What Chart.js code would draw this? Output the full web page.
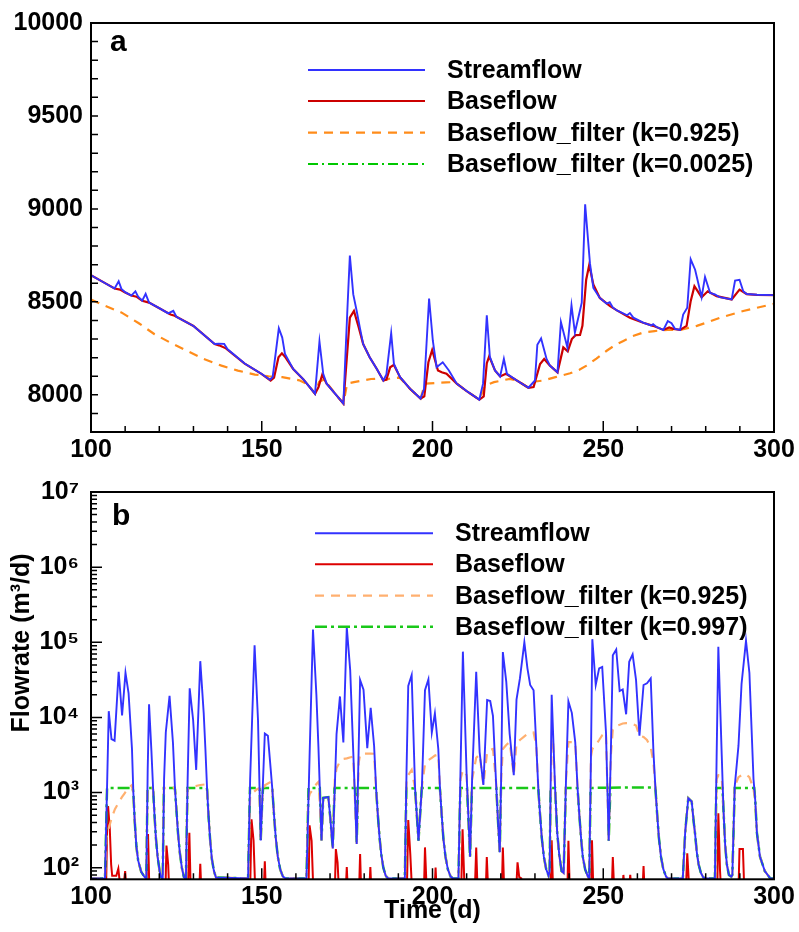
<!DOCTYPE html>
<html><head><meta charset="utf-8">
<script src="https://cdn.jsdelivr.net/npm/chart.js@4/dist/chart.umd.min.js"></script>
<style>
html,body{margin:0;padding:0;background:#fff;}
#wrap{position:relative;width:799px;height:932px;background:#fff;}
.box{position:absolute;left:0;width:799px;}
</style></head><body>
<div id="wrap">
<div class="box" style="top:0;height:465px"><canvas id="ca" width="799" height="465"></canvas></div>
<div class="box" style="top:465px;height:467px"><canvas id="cb" width="799" height="467"></canvas></div>
</div>
<script>
// ---------------- DATA ----------------
const X_TICKS = [100, 150, 200, 250, 300];
const A_Y_TICKS = [8000, 8500, 9000, 9500, 10000];
const B_Y_TICKS = [1e2, 1e3, 1e4, 1e5, 1e6, 1e7];
const LABELS_A = ['Streamflow', 'Baseflow', 'Baseflow_filter (k=0.925)', 'Baseflow_filter (k=0.0025)'];
const LABELS_B = ['Streamflow', 'Baseflow', 'Baseflow_filter (k=0.925)', 'Baseflow_filter (k=0.997)'];

// panel a  [day, flow]
const a_streamflow = [[100,8643],[106.9,8572],[108.1,8611],[108.9,8570],[110,8552],[111.8,8534],[113,8557],[113.8,8528],[115,8506],[116,8543],[117,8496],[120,8466],[122.6,8438],[124.1,8452],[125,8420],[130,8370],[136.2,8273],[137.4,8275],[139,8274],[140,8245],[145,8168],[149.9,8113],[152.4,8081],[153.2,8096],[155,8358],[156,8308],[156.8,8220],[159.2,8139],[162.2,8083],[165.6,8006],[166.9,8287],[168,8113],[169,8060],[171.9,7997],[173.9,7953],[175.1,8468],[175.8,8749],[176.8,8540],[177.8,8451],[178.8,8355],[179.7,8273],[181.6,8202],[183.7,8139],[185.6,8077],[186.5,8110],[187.9,8332],[188.7,8166],[190.5,8095],[193.4,8033],[196.5,7980],[197.5,8030],[199,8518],[200.1,8291],[201.2,8148],[203,8175],[204.8,8131],[207.1,8060],[210,8020],[213.7,7974],[214.8,8060],[215.9,8428],[216.8,8205],[218.3,8131],[219.8,8099],[220.9,8193],[221.8,8113],[224.7,8077],[228.1,8038],[230,8077],[230.7,8269],[231.8,8303],[233.4,8193],[234.4,8157],[236.6,8121],[237.6,8392],[239.5,8255],[240.7,8481],[241.7,8335],[243.7,8495],[244.7,9025],[246.1,8708],[247.1,8575],[249,8521],[251,8490],[251.9,8498],[252.8,8470],[254,8454],[257,8428],[257.8,8440],[258.8,8415],[261.7,8388],[264,8373],[264.6,8380],[265.5,8366],[267.6,8349],[268.9,8397],[270,8385],[271,8355],[272.5,8349],[273.4,8432],[274.6,8468],[275.6,8729],[276.9,8673],[278.8,8525],[279.8,8634],[281.3,8548],[282.7,8540],[284.1,8525],[287.6,8513],[288.6,8614],[289.9,8619],[291,8557],[292,8542],[295,8538],[300,8536]];
const a_baseflow = [[100,8643],[104,8602],[106.9,8572],[108.5,8566],[110,8550],[111.8,8534],[113.3,8528],[115,8506],[117,8496],[120,8466],[123.3,8432],[124.5,8425],[130,8370],[136.2,8273],[137.5,8266],[139.5,8250],[145,8168],[149.9,8113],[152.6,8077],[153.6,8092],[154.9,8202],[155.9,8223],[156.8,8205],[159.2,8139],[162.2,8083],[165.6,8006],[166.6,8040],[167.7,8107],[169,8060],[171.9,7997],[173.9,7953],[175.8,8415],[177,8451],[178.4,8362],[179.7,8273],[181.6,8202],[183.7,8139],[185.6,8077],[186.5,8082],[187.6,8148],[188.7,8161],[190.5,8095],[193.4,8033],[196.5,7980],[197.6,7992],[198.8,8175],[199.9,8241],[201.6,8131],[202.7,8121],[204.1,8113],[207.1,8060],[210,8020],[213.7,7974],[215,7992],[215.9,8170],[216.6,8207],[218.3,8131],[219.8,8099],[221.5,8113],[224.7,8077],[228.1,8038],[229.6,8042],[231.5,8166],[232.7,8193],[234.4,8157],[236.6,8121],[238.3,8255],[239.6,8234],[240.8,8300],[241.9,8321],[243.2,8322],[243.9,8371],[245,8619],[245.9,8699],[247.1,8593],[249,8521],[252,8477],[254,8454],[257.8,8415],[261.7,8388],[264.6,8371],[267.6,8349],[269.3,8362],[270.5,8355],[272.5,8349],[274.4,8371],[275.6,8504],[276.7,8584],[278.8,8525],[280.6,8557],[283.2,8531],[287.6,8513],[289.9,8566],[292,8542],[295,8538],[300,8536]];
const a_filter925 = [[100,8513],[104,8480],[109,8442],[114,8385],[118.6,8326],[123.5,8278],[128.4,8234],[133,8193],[138.2,8157],[143,8130],[148,8109],[152,8100],[156,8095],[159,8085],[161,8078],[163.5,8056],[165.6,8006],[166.8,8070],[168.3,8082],[168.8,8070],[171.9,7997],[173.9,7953],[175,8060],[177,8068],[179,8075],[182,8085],[185,8088],[185.6,8077],[186.5,8082],[188,8090],[190,8092],[190.5,8090],[193.4,8033],[196.5,7980],[197.8,8060],[201,8064],[204,8067],[206.5,8068],[207.1,8060],[210,8020],[213.7,7974],[215.4,8051],[218,8068],[221,8080],[222.7,8086],[224.7,8077],[228.1,8038],[230.2,8072],[232.5,8077],[236,8095],[240.3,8116],[243,8135],[245.1,8157],[248,8195],[251,8237],[253.5,8268],[255.9,8290],[258.5,8315],[261.7,8335],[265,8343],[267.6,8348],[270,8350],[272.5,8349],[275,8360],[277.4,8371],[281,8393],[284.2,8415],[288,8435],[291,8451],[295,8468],[300,8490]];
const a_filter0025 = [];

// panel b  [day, flowrate]
const b_streamflow = [[100,72],[104.1,72],[105.2,12100],[106,5150],[106.9,4900],[108.1,40500],[109.1,10600],[110.1,39300],[111,21100],[112,3810],[112.4,1000],[112.8,420],[113.3,190],[113.8,125],[114.7,88],[115.7,75],[116.2,72],[116.6,2000],[117,14900],[117.7,3500],[118.2,1100],[118.6,500],[119,250],[119.5,140],[120.1,90],[120.5,75],[121,72],[121.4,1500],[121.9,6300],[123,19300],[124,4600],[124.6,1100],[125,600],[125.5,280],[126,160],[126.6,100],[127.2,75],[127.8,72],[128.3,1500],[128.9,24400],[129.9,9300],[130.8,2000],[132,56000],[133,11500],[133.5,3800],[134,1100],[134.4,500],[134.9,230],[135.4,130],[136,90],[136.6,74],[146,72],[146.6,1500],[147.9,91000],[148.9,9300],[149.7,230],[150.2,900],[150.9,6100],[151.8,5700],[152.6,2100],[153.1,1100],[153.6,500],[154.1,250],[154.7,140],[155.4,95],[156.2,76],[157,72],[163.1,72],[164,3000],[165,148000],[166,20000],[166.6,4000],[167.5,230],[168,850],[169.5,870],[170,500],[170.8,180],[171.9,6000],[172.9,19000],[173.9,4650],[174.9,158000],[175.9,42600],[176.8,3450],[177.8,206],[178.8,31500],[179.8,23400],[180.9,3900],[181.9,13400],[182.9,4200],[183.5,1100],[184,500],[184.5,250],[185,150],[185.6,100],[186.3,78],[187,72],[191.9,72],[192.4,2000],[192.9,26300],[193.9,36600],[194.9,1130],[195.9,228],[196.9,1200],[197.8,23000],[198.8,32000],[199.8,6300],[200.7,11300],[201.7,3800],[202.2,1100],[202.7,500],[203.2,240],[203.8,140],[204.5,95],[205.3,76],[206,72],[207.6,72],[208.2,2000],[208.9,75000],[210,1700],[211,140],[211.6,1500],[212.8,40600],[213.8,3450],[214.9,1260],[216,17000],[216.9,16500],[217.7,10500],[218.6,1400],[219.2,400],[219.7,160],[220.1,1500],[220.6,74000],[221.6,30000],[222.6,6000],[223.8,1700],[224.6,17200],[225.6,33000],[226.9,100000],[227.8,45000],[228.6,27000],[229.6,23000],[230.4,4200],[231,1100],[231.5,500],[232,250],[232.6,140],[233.3,95],[234,78],[234.3,90],[234.9,20000],[235.9,1150],[236.5,300],[237.1,150],[237.8,90],[238.4,85],[239.1,1500],[239.8,16300],[240.8,11500],[241.8,4650],[242.5,1100],[243,500],[243.5,250],[244,140],[244.7,95],[245.5,76],[245.9,72],[246.4,3000],[246.8,110000],[247.8,27000],[248.8,45000],[249.7,47000],[250.8,6300],[251.6,228],[252.2,3000],[252.8,67000],[253.8,80000],[254.8,22400],[255.7,23500],[256.7,11000],[257.6,55000],[258.6,69000],[259.6,31600],[260.6,5700],[261.8,27000],[262.8,28500],[263.9,33000],[264.7,3450],[265.3,1100],[265.8,500],[266.3,250],[266.9,140],[267.6,95],[268.4,76],[269,72],[273.3,72],[274,300],[274.9,840],[275.9,760],[276.5,400],[276.9,280],[277.4,160],[277.9,112],[278.6,85],[279.3,74],[280,72],[282.7,72],[283.2,3000],[283.7,87000],[284.7,3100],[285.2,600],[285.7,200],[286.2,110],[286.8,80],[287.5,76],[287.8,80],[288.5,1200],[289.6,4200],[290.5,28000],[291.8,105000],[292.8,39000],[294,1500],[294.5,800],[295,290],[295.9,140],[297.3,90],[298.9,72],[300,72]];
const b_baseflow = [[100,50],[104.4,50],[104.7,300],[105,660],[105.5,330],[105.9,110],[106.2,78],[107.4,78],[108,97],[108.5,60],[109.6,60],[110,90],[110.4,50],[116.3,50],[116.7,280],[117.1,50],[121.8,50],[122.1,197],[122.6,110],[122.9,50],[128.4,50],[128.8,292],[129.2,50],[131.7,50],[132,113],[132.3,50],[146.6,50],[147,440],[147.6,230],[148.1,50],[150.6,50],[150.9,122],[151.2,50],[163.7,50],[164,366],[164.6,228],[165.1,50],[171.4,50],[171.7,177],[172.2,118],[172.6,50],[174.6,50],[174.9,102],[175.2,50],[178.5,50],[178.8,152],[179.1,50],[181.5,50],[181.8,102],[182.1,50],[192.5,50],[192.9,430],[193.5,150],[194,50],[197.5,50],[197.8,186],[198.3,50],[200.6,50],[200.9,100],[201.2,50],[208.4,50],[208.8,325],[209.4,50],[212.4,50],[212.8,186],[213.2,50],[215.6,50],[215.9,138],[216.3,50],[220.3,50],[220.6,186],[221,50],[224.5,50],[224.9,118],[225.4,75],[226,72],[226.5,50],[234.6,50],[234.9,232],[235.3,50],[239.5,50],[239.8,228],[240.2,50],[246.4,50],[246.7,232],[247.1,50],[252.5,50],[252.8,138],[253.2,50],[255.6,50],[255.9,80],[256.3,50],[257.5,50],[257.9,80],[258.3,50],[261.5,50],[261.8,105],[262.1,50],[274.2,50],[274.6,155],[275.1,60],[275.6,50],[283.4,50],[283.7,530],[284.2,90],[284.5,50],[289.6,50],[289.9,177],[290.9,177],[291.3,50],[300,50]];
const b_filter925 = [[100,72],[104.1,72],[104.5,250],[105,310],[106,450],[107,600],[108,720],[109,860],[110,1000],[111,1150],[111.9,1250],[112.4,1000],[112.8,420],[113.3,190],[113.8,125],[114.7,88],[115.7,75],[116.2,72],[116.55,1150],[118,1150],[118.2,1100],[118.6,500],[119,250],[119.5,140],[120.1,90],[120.5,75],[121,72],[121.35,1150],[124.4,1160],[124.6,1100],[125,600],[125.5,280],[126,160],[126.6,100],[127.2,75],[127.8,72],[128.25,1100],[129,1150],[130,1200],[131,1230],[132,1260],[133.3,1280],[133.6,1200],[134,1100],[134.4,500],[134.9,230],[135.4,130],[136,90],[136.6,74],[146,72],[146.6,900],[147.5,1000],[148.5,1100],[149.3,1150],[149.7,230],[150.2,900],[150.9,1250],[151.8,1320],[152.6,1380],[153.1,1100],[153.6,500],[154.1,250],[154.7,140],[155.4,95],[156.2,76],[157,72],[163.1,72],[163.6,800],[164.1,970],[165,1100],[166,1300],[166.7,1400],[167.5,230],[168,850],[169.5,870],[170,500],[170.8,180],[171.4,1500],[171.9,2100],[172.9,2600],[173.9,2800],[174.9,2850],[176,2950],[176.8,3000],[177.8,206],[178.4,2500],[178.8,3200],[179.8,3300],[180.9,3300],[181.9,3300],[182.9,3280],[183.5,1100],[184,500],[184.5,250],[185,150],[185.6,100],[186.3,78],[187,72],[191.9,72],[192.4,1500],[192.9,1700],[193.9,2000],[194.9,1130],[195.9,228],[196.9,1200],[197.8,2400],[198.8,2700],[199.8,2900],[200.7,3100],[201.7,3200],[202.2,1100],[202.7,500],[203.2,240],[203.8,140],[204.5,95],[205.3,76],[206,72],[207.6,72],[208.2,1500],[208.9,2000],[210,1700],[211,140],[211.6,1500],[212.8,2900],[213.8,3200],[214.9,1260],[216,3500],[216.9,3700],[217.7,3800],[218.6,1400],[219.2,400],[219.7,160],[220.1,1500],[220.6,3800],[221.6,4300],[222.6,4700],[223.8,1700],[224.6,4500],[225.6,5000],[226.9,5600],[227.8,6000],[228.6,6200],[229.6,6300],[230.4,4200],[231,1100],[231.5,500],[232,250],[232.6,140],[233.3,95],[234,78],[234.3,90],[234.9,5200],[235.3,5000],[235.9,1150],[236.5,300],[237.1,150],[237.8,90],[238.4,85],[239.1,1500],[239.8,4700],[240.8,4700],[241.8,4650],[242.5,1100],[243,500],[243.5,250],[244,140],[244.7,95],[245.5,76],[245.9,72],[246.4,3000],[246.8,3800],[247.8,4300],[248.8,5000],[249.7,5800],[250.8,6300],[251.6,228],[252.2,3000],[252.8,6900],[253.8,7700],[254.8,8000],[255.7,8300],[256.7,8400],[257.6,8400],[258.6,8200],[259.6,7800],[260.6,5700],[261.8,5500],[262.8,5000],[263.9,4000],[264.7,2500],[265.3,1100],[265.8,500],[266.3,250],[266.9,140],[267.6,95],[268.4,76],[269,72],[273.3,72],[274,300],[274.9,840],[275.9,760],[276.5,400],[276.9,280],[277.4,160],[277.9,112],[278.6,85],[279.3,74],[280,72],[282.7,72],[283.2,1500],[283.7,1700],[284.2,1700],[284.7,1600],[285.2,600],[285.7,200],[286.2,110],[286.8,80],[287.5,76],[287.8,80],[288.5,1200],[289.6,1600],[290.5,1700],[291.8,1750],[292.8,1600],[293.5,1300],[294,1100],[294.5,800],[295,290],[295.9,140],[297.3,90],[298.9,72],[300,72]];
const b_filter997 = [[100,72],[104.1,72],[104.7,1150],[112.2,1150],[112.4,1000],[112.8,420],[113.3,190],[113.8,125],[114.7,88],[115.7,75],[116.2,72],[116.55,1150],[118.1,1150],[118.2,1100],[118.6,500],[119,250],[119.5,140],[120.1,90],[120.5,75],[121,72],[121.35,1150],[124.5,1150],[124.6,1100],[125,600],[125.5,280],[126,160],[126.6,100],[127.2,75],[127.8,72],[128.25,1150],[133.9,1150],[134,1100],[134.4,500],[134.9,230],[135.4,130],[136,90],[136.6,74],[146,72],[146.55,1150],[149.4,1150],[149.7,230],[150.2,900],[150.4,1150],[153,1150],[153.1,1100],[153.6,500],[154.1,250],[154.7,140],[155.4,95],[156.2,76],[157,72],[163.1,72],[163.7,1150],[167,1150],[167.5,230],[168,850],[169.5,870],[170,500],[170.8,180],[171.3,1150],[177.4,1150],[177.8,206],[178.2,1150],[183.4,1150],[183.5,1100],[184,500],[184.5,250],[185,150],[185.6,100],[186.3,78],[187,72],[191.9,72],[192.35,1150],[194.9,1130],[195.9,228],[196.85,1150],[202.1,1150],[202.2,1100],[202.7,500],[203.2,240],[203.8,140],[204.5,95],[205.3,76],[206,72],[207.6,72],[208.15,1150],[210.1,1150],[211,140],[211.55,1150],[218.7,1150],[219.2,400],[219.7,160],[220.05,1150],[230.9,1150],[231,1100],[231.5,500],[232,250],[232.6,140],[233.3,95],[234,78],[234.3,90],[234.58,1150],[235.9,1150],[236.5,300],[237.1,150],[237.8,90],[238.4,85],[239.05,1150],[242.4,1150],[242.5,1100],[243,500],[243.5,250],[244,140],[244.7,95],[245.5,76],[245.9,72],[246.3,1150],[251.4,1160],[251.6,228],[252.1,1160],[265.2,1170],[265.3,1100],[265.8,500],[266.3,250],[266.9,140],[267.6,95],[268.4,76],[269,72],[273.3,72],[274,300],[274.9,840],[275.9,760],[276.5,400],[276.9,280],[277.4,160],[277.9,112],[278.6,85],[279.3,74],[280,72],[282.7,72],[283.1,1150],[284.9,1150],[285.2,600],[285.7,200],[286.2,110],[286.8,80],[287.5,76],[287.8,80],[288.5,1150],[294.2,1150],[294.5,800],[295,290],[295.9,140],[297.3,90],[298.9,72],[300,72]];

// ---------------- RENDERING ----------------
const FONT = '"Liberation Sans", Arial, Helvetica, sans-serif';
const pts = arr => arr.map(p => ({x: p[0], y: p[1]}));
const SUP = {'0':'\u2070','1':'\u00B9','2':'\u00B2','3':'\u00B3','4':'\u2074','5':'\u2075','6':'\u2076','7':'\u2077','8':'\u2078','9':'\u2079'};
const pow10Label = v => '10' + String(Math.round(Math.log10(v))).split('').map(c => SUP[c]).join('');

const deco = {
  id: 'deco',
  afterDraw(chart, args, o) {
    const ctx = chart.ctx, ca = chart.chartArea, xs = chart.scales.x, ys = chart.scales.y;
    ctx.save();
    ctx.setLineDash([]);
    ctx.strokeStyle = '#000';
    ctx.lineWidth = 1.5;
    ctx.beginPath();
    for (let v = xs.min; v <= xs.max + 1e-9; v += o.xMinorStep) {
      const p = xs.getPixelForValue(v);
      const len = X_TICKS.includes(v) ? o.xMajorLen : o.xMinorLen;
      ctx.moveTo(p, ca.bottom); ctx.lineTo(p, ca.bottom - len);
    }
    o.yTickVals.forEach(t => {
      if (t.v < ys.min - 1e-9 || t.v > ys.max + 1e-9) return;
      const p = ys.getPixelForValue(t.v);
      const len = t.major ? o.yMajorLen : o.yMinorLen;
      ctx.moveTo(ca.left, p); ctx.lineTo(ca.left + len, p);
    });
    ctx.stroke();
    ctx.lineWidth = 2;
    ctx.strokeRect(ca.left, ca.top, ca.right - ca.left, ca.bottom - ca.top);
    // panel letter
    ctx.fillStyle = '#000';
    ctx.textAlign = 'left';
    ctx.textBaseline = 'alphabetic';
    ctx.font = 'bold 30px ' + FONT;
    ctx.fillText(o.letter, o.letterX, o.letterY);
    // legend
    ctx.font = 'bold 25px ' + FONT;
    ctx.textBaseline = 'middle';
    o.legendOrder.forEach((di, i) => {
      const ds = chart.data.datasets[di];
      const y = o.legY[i];
      ctx.save();
      ctx.strokeStyle = ds.borderColor;
      ctx.lineWidth = ds.borderWidth;
      ctx.setLineDash(ds.borderDash || []);
      ctx.beginPath(); ctx.moveTo(o.legX1, y); ctx.lineTo(o.legX2, y); ctx.stroke();
      ctx.restore();
      ctx.fillStyle = '#000';
      ctx.fillText(ds.label, o.legTX, y + 1);
    });
    if (o.yTitle) {
      ctx.save();
      ctx.translate(o.yTitleX, o.yTitleY);
      ctx.rotate(-Math.PI / 2);
      ctx.textAlign = 'center';
      ctx.textBaseline = 'middle';
      ctx.font = 'bold 25px ' + FONT;
      ctx.fillText(o.yTitle, 0, 0);
      ctx.restore();
    }
    ctx.restore();
  }
};

function ds(label, data, color, width, dash) {
  return {label, data: pts(data), borderColor: color, backgroundColor: color, borderWidth: width,
          borderDash: dash || [], pointRadius: 0, tension: 0, fill: false, spanGaps: true};
}

const tickFont = {family: FONT, size: 25, weight: 'bold'};

// minor tick lists for y axes
const aYTicks = [];
for (let v = 7800; v <= 10000; v += 100) aYTicks.push({v, major: A_Y_TICKS.includes(v)});
const bYTicks = [];
for (let e = 1; e <= 7; e++) for (let k = 1; k <= 9; k++) {
  const v = k * Math.pow(10, e);
  if (v <= 1e7) bYTicks.push({v, major: k === 1});
}

new Chart(document.getElementById('ca'), {
  type: 'line',
  data: {datasets: [
    ds(LABELS_A[0], a_streamflow, '#3232ff', 1.9),
    ds(LABELS_A[1], a_baseflow, '#cc0000', 2.2),
    ds(LABELS_A[2], a_filter925, '#ff8c1a', 2.2, [9, 7]),
    ds(LABELS_A[3], a_filter0025, '#00c800', 1.8, [10, 4, 2, 4])
  ]},
  options: {
    responsive: false, animation: false, devicePixelRatio: 1,
    layout: {padding: {top: 19, right: 25, bottom: 0, left: 0}},
    plugins: {legend: {display: false}, tooltip: {enabled: false},
      deco: {xMinorStep: 10, xMajorLen: 11, xMinorLen: 6, yMajorLen: 7, yMinorLen: 7, yTickVals: aYTicks,
             letter: 'a', letterX: 110, letterY: 51,
             legendOrder: [0, 1, 2, 3], legY: [70, 101, 132.7, 164], legX1: 308, legX2: 425, legTX: 447}},
    scales: {
      x: {type: 'linear', min: 100, max: 300,
          afterBuildTicks: s => { s.ticks = X_TICKS.map(v => ({value: v})); },
          afterFit: s => { s.height = 33; },
          grid: {display: false, drawTicks: false}, border: {display: false},
          ticks: {font: tickFont, color: '#000', padding: 3, maxRotation: 0, autoSkip: false, callback: v => String(v)}},
      y: {type: 'linear', min: 7800, max: 10000,
          afterBuildTicks: s => { s.ticks = A_Y_TICKS.map(v => ({value: v})); },
          afterFit: s => { s.width = 91; },
          grid: {display: false, drawTicks: false}, border: {display: false},
          ticks: {font: tickFont, color: '#000', padding: 8, callback: v => String(v)}}
    }
  },
  plugins: [deco]
});

new Chart(document.getElementById('cb'), {
  type: 'line',
  data: {datasets: [
    ds(LABELS_B[0], b_streamflow, '#3232ff', 1.9),
    ds(LABELS_B[2], b_filter925, '#ffb070', 2.2, [9, 7]),
    ds(LABELS_B[3], b_filter997, '#19c819', 2.5, [12, 4, 3, 4]),
    ds(LABELS_B[1], b_baseflow, '#dd0000', 2)
  ]},
  options: {
    responsive: false, animation: false, devicePixelRatio: 1,
    layout: {padding: {top: 20.7, right: 25, bottom: 0, left: 0}},
    plugins: {legend: {display: false}, tooltip: {enabled: false},
      deco: {xMinorStep: 10, xMajorLen: 11, xMinorLen: 6, yMajorLen: 11, yMinorLen: 6, yTickVals: bYTicks,
             letter: 'b', letterX: 112, letterY: 60,
             legendOrder: [0, 3, 1, 2], legY: [68.3, 99.3, 130.7, 161.7], legX1: 315, legX2: 433, legTX: 455,
             yTitle: 'Flowrate (m\u00B3/d)', yTitleX: 22, yTitleY: 178}},
    scales: {
      x: {type: 'linear', min: 100, max: 300,
          afterBuildTicks: s => { s.ticks = X_TICKS.map(v => ({value: v})); },
          afterFit: s => { s.height = 52.7; },
          grid: {display: false, drawTicks: false}, border: {display: false},
          title: {display: true, text: 'Time (d)', color: '#000', font: {family: FONT, size: 25, weight: 'bold'}, padding: {top: 0, bottom: 6}},
          ticks: {font: tickFont, color: '#000', padding: 3, maxRotation: 0, autoSkip: false, callback: v => String(v)}},
      y: {type: 'logarithmic', min: 70, max: 1e7,
          afterBuildTicks: s => { s.ticks = B_Y_TICKS.map(v => ({value: v})); },
          afterFit: s => { s.width = 91; },
          grid: {display: false, drawTicks: false}, border: {display: false},
          ticks: {font: tickFont, color: '#000', padding: 12, callback: v => pow10Label(v)}}
    }
  },
  plugins: [deco]
});
</script>
</body></html>
